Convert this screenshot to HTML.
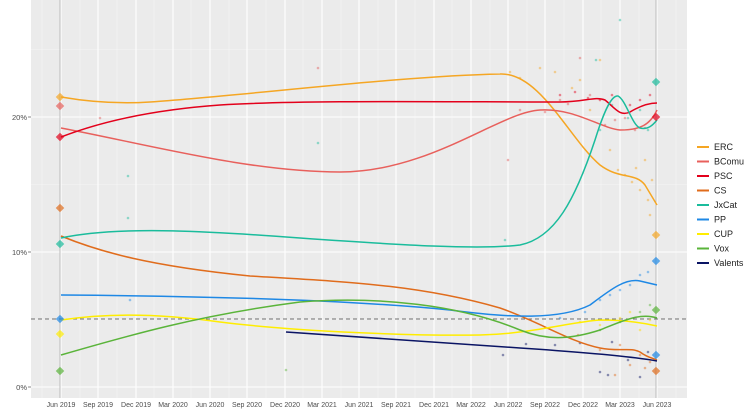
<!DOCTYPE html>
<html><head><meta charset="utf-8"><style>body{margin:0;background:#fff}svg{display:block;font-family:"Liberation Sans",sans-serif}</style></head><body>
<svg width="750" height="417" viewBox="0 0 750 417">
<rect x="31" y="0" width="656" height="398" fill="#ebebeb"/>
<g stroke="#f5f5f5" stroke-width="0.6">
<line x1="31" x2="687" y1="319.5" y2="319.5"/><line x1="31" x2="687" y1="184.5" y2="184.5"/><line x1="31" x2="687" y1="49.5" y2="49.5"/>
<line x1="42" x2="42" y1="0" y2="398"/><line x1="80" x2="80" y1="0" y2="398"/><line x1="117" x2="117" y1="0" y2="398"/><line x1="154" x2="154" y1="0" y2="398"/><line x1="191" x2="191" y1="0" y2="398"/><line x1="229" x2="229" y1="0" y2="398"/><line x1="266" x2="266" y1="0" y2="398"/><line x1="303" x2="303" y1="0" y2="398"/><line x1="341" x2="341" y1="0" y2="398"/><line x1="378" x2="378" y1="0" y2="398"/><line x1="415" x2="415" y1="0" y2="398"/><line x1="452" x2="452" y1="0" y2="398"/><line x1="490" x2="490" y1="0" y2="398"/><line x1="527" x2="527" y1="0" y2="398"/><line x1="564" x2="564" y1="0" y2="398"/><line x1="601" x2="601" y1="0" y2="398"/><line x1="639" x2="639" y1="0" y2="398"/><line x1="676" x2="676" y1="0" y2="398"/>
</g>
<g stroke="#fff" stroke-width="1.1">
<line x1="31" x2="687" y1="387" y2="387"/><line x1="31" x2="687" y1="252" y2="252"/><line x1="31" x2="687" y1="117" y2="117"/>
<line x1="61" x2="61" y1="0" y2="398"/><line x1="98" x2="98" y1="0" y2="398"/><line x1="136" x2="136" y1="0" y2="398"/><line x1="173" x2="173" y1="0" y2="398"/><line x1="210" x2="210" y1="0" y2="398"/><line x1="247" x2="247" y1="0" y2="398"/><line x1="285" x2="285" y1="0" y2="398"/><line x1="322" x2="322" y1="0" y2="398"/><line x1="359" x2="359" y1="0" y2="398"/><line x1="396" x2="396" y1="0" y2="398"/><line x1="434" x2="434" y1="0" y2="398"/><line x1="471" x2="471" y1="0" y2="398"/><line x1="508" x2="508" y1="0" y2="398"/><line x1="545" x2="545" y1="0" y2="398"/><line x1="583" x2="583" y1="0" y2="398"/><line x1="620" x2="620" y1="0" y2="398"/><line x1="657" x2="657" y1="0" y2="398"/>
</g>
<line x1="60" x2="60" y1="0" y2="398" stroke="#bbb" stroke-width="1"/>
<line x1="656" x2="656" y1="0" y2="398" stroke="#bbb" stroke-width="1"/>
<line x1="31" x2="687" y1="319" y2="319" stroke="#444" stroke-width="0.8" stroke-dasharray="4,3"/>
<g opacity="0.45">
<g fill="#f5a623"><circle cx="510" cy="72" r="1.3"/><circle cx="540" cy="68" r="1.3"/><circle cx="580" cy="80" r="1.3"/><circle cx="610" cy="150" r="1.3"/><circle cx="625" cy="175" r="1.3"/><circle cx="640" cy="190" r="1.3"/><circle cx="650" cy="215" r="1.3"/><circle cx="600" cy="60" r="1.3"/><circle cx="645" cy="160" r="1.3"/><circle cx="520" cy="78" r="1.3"/><circle cx="555" cy="72" r="1.3"/><circle cx="572" cy="88" r="1.3"/><circle cx="590" cy="110" r="1.3"/><circle cx="618" cy="170" r="1.3"/><circle cx="632" cy="182" r="1.3"/><circle cx="648" cy="200" r="1.3"/><circle cx="652" cy="180" r="1.3"/><circle cx="636" cy="168" r="1.3"/></g>
<g fill="#e05a5a"><circle cx="520" cy="110" r="1.3"/><circle cx="560" cy="100" r="1.3"/><circle cx="590" cy="95" r="1.3"/><circle cx="615" cy="120" r="1.3"/><circle cx="635" cy="130" r="1.3"/><circle cx="318" cy="68" r="1.3"/><circle cx="100" cy="118" r="1.3"/><circle cx="580" cy="58" r="1.3"/><circle cx="545" cy="112" r="1.3"/><circle cx="568" cy="104" r="1.3"/><circle cx="605" cy="125" r="1.3"/><circle cx="625" cy="118" r="1.3"/><circle cx="645" cy="128" r="1.3"/><circle cx="508" cy="160" r="1.3"/></g>
<g fill="#e3001b"><circle cx="560" cy="95" r="1.3"/><circle cx="600" cy="100" r="1.3"/><circle cx="630" cy="105" r="1.3"/><circle cx="650" cy="95" r="1.3"/><circle cx="575" cy="92" r="1.3"/><circle cx="612" cy="95" r="1.3"/><circle cx="640" cy="100" r="1.3"/><circle cx="588" cy="98" r="1.3"/></g>
<g fill="#1abc9c"><circle cx="128" cy="176" r="1.3"/><circle cx="128" cy="218" r="1.3"/><circle cx="620" cy="20" r="1.3"/><circle cx="600" cy="130" r="1.3"/><circle cx="640" cy="110" r="1.3"/><circle cx="318" cy="143" r="1.3"/><circle cx="505" cy="240" r="1.3"/><circle cx="612" cy="105" r="1.3"/><circle cx="628" cy="118" r="1.3"/><circle cx="648" cy="130" r="1.3"/><circle cx="596" cy="60" r="1.3"/></g>
<g fill="#1e88e5"><circle cx="600" cy="300" r="1.3"/><circle cx="620" cy="290" r="1.3"/><circle cx="640" cy="275" r="1.3"/><circle cx="560" cy="318" r="1.3"/><circle cx="130" cy="300" r="1.3"/><circle cx="610" cy="295" r="1.3"/><circle cx="630" cy="285" r="1.3"/><circle cx="648" cy="272" r="1.3"/><circle cx="585" cy="312" r="1.3"/></g>
<g fill="#e06c1c"><circle cx="600" cy="350" r="1.3"/><circle cx="630" cy="365" r="1.3"/><circle cx="645" cy="368" r="1.3"/><circle cx="615" cy="375" r="1.3"/><circle cx="578" cy="335" r="1.3"/><circle cx="620" cy="345" r="1.3"/><circle cx="640" cy="355" r="1.3"/><circle cx="650" cy="362" r="1.3"/></g>
<g fill="#ffd800"><circle cx="580" cy="322" r="1.3"/><circle cx="620" cy="318" r="1.3"/><circle cx="640" cy="330" r="1.3"/><circle cx="600" cy="325" r="1.3"/><circle cx="630" cy="312" r="1.3"/><circle cx="650" cy="320" r="1.3"/></g>
<g fill="#5ab43a"><circle cx="600" cy="330" r="1.3"/><circle cx="640" cy="312" r="1.3"/><circle cx="286" cy="370" r="1.3"/><circle cx="620" cy="322" r="1.3"/><circle cx="650" cy="305" r="1.3"/></g>
<g fill="#0a1464"><circle cx="503" cy="355" r="1.3"/><circle cx="526" cy="344" r="1.3"/><circle cx="600" cy="372" r="1.3"/><circle cx="608" cy="375" r="1.3"/><circle cx="640" cy="377" r="1.3"/><circle cx="612" cy="342" r="1.3"/><circle cx="555" cy="345" r="1.3"/><circle cx="580" cy="343" r="1.3"/><circle cx="628" cy="360" r="1.3"/><circle cx="648" cy="352" r="1.3"/></g>
</g>
<g fill="none" stroke-width="1.5">
<path stroke="#f5a623" d="M61,97 C90,102 120,104 150,102 C250,95 400,76 500,74 C540,72 570,140 600,165 C620,180 635,172 645,185 L657,205"/>
<path stroke="#e8605c" d="M61,128 C150,145 250,172 340,172 C430,172 500,112 540,110 C575,108 600,128 620,130 C640,130 650,125 657,110"/>
<path stroke="#e3001b" d="M61,137 C100,122 150,110 220,105 C300,100 450,102 560,102 C585,102 595,96 605,100 C615,108 620,117 630,112 C640,106 648,103 657,103"/>
<path stroke="#e06c1c" d="M61,236 C100,252 150,266 250,276 C350,282 420,285 500,308 C540,322 570,342 600,348 C620,352 630,347 640,352 C648,358 653,358 657,360"/>
<path stroke="#1abc9c" d="M61,238 C120,225 220,232 300,238 C400,245 480,250 520,245 C555,238 575,200 595,140 C605,108 612,95 618,96 C626,100 632,125 640,128 C648,130 653,125 657,120"/>
<path stroke="#1e88e5" d="M61,295 C200,296 350,300 450,310 C510,318 560,320 590,305 C610,290 625,278 640,281 L657,285"/>
<path stroke="#ffed00" d="M61,320 C100,314 150,312 220,322 C300,332 420,336 480,335 C530,334 570,322 600,320 C620,320 640,322 657,326"/>
<path stroke="#5ab43a" d="M61,355 C130,335 200,315 300,302 C380,296 460,305 520,330 C550,342 575,338 600,330 C620,322 640,312 657,318"/>
<path stroke="#0a1464" d="M286,332 C380,338 460,344 520,348 C580,352 630,356 657,361"/>
</g>
<g opacity="0.7">
<rect x="57" y="94" width="6" height="6" fill="#f5a623" transform="rotate(45 60 97)"/>
<rect x="57" y="103" width="6" height="6" fill="#e8605c" transform="rotate(45 60 106)"/>
<rect x="57" y="134" width="6" height="6" fill="#e3001b" transform="rotate(45 60 137)"/>
<rect x="57" y="205" width="6" height="6" fill="#e06c1c" transform="rotate(45 60 208)"/>
<rect x="57" y="241" width="6" height="6" fill="#1abc9c" transform="rotate(45 60 244)"/>
<rect x="57" y="316" width="6" height="6" fill="#1e88e5" transform="rotate(45 60 319)"/>
<rect x="57" y="331" width="6" height="6" fill="#ffed00" transform="rotate(45 60 334)"/>
<rect x="57" y="368" width="6" height="6" fill="#5ab43a" transform="rotate(45 60 371)"/>
<rect x="653" y="79" width="6" height="6" fill="#1abc9c" transform="rotate(45 656 82)"/>
<rect x="653" y="114" width="6" height="6" fill="#e3001b" transform="rotate(45 656 117)"/>
<rect x="653" y="232" width="6" height="6" fill="#f5a623" transform="rotate(45 656 235)"/>
<rect x="653" y="258" width="6" height="6" fill="#1e88e5" transform="rotate(45 656 261)"/>
<rect x="653" y="307" width="6" height="6" fill="#5ab43a" transform="rotate(45 656 310)"/>
<rect x="653" y="352" width="6" height="6" fill="#1e88e5" transform="rotate(45 656 355)"/>
<rect x="653" y="368" width="6" height="6" fill="#e06c1c" transform="rotate(45 656 371)"/>
</g>
<g font-size="7.5" fill="#4d4d4d" text-anchor="end">
<text x="27" y="390">0%</text><text x="27" y="255">10%</text><text x="27" y="120">20%</text>
</g>
<g stroke="#333" stroke-width="0.6"><line x1="28" x2="31" y1="387" y2="387"/><line x1="28" x2="31" y1="252" y2="252"/><line x1="28" x2="31" y1="117" y2="117"/></g>
<g font-size="7" fill="#4d4d4d" text-anchor="middle">
<text x="61" y="407">Jun 2019</text><text x="98" y="407">Sep 2019</text><text x="136" y="407">Dec 2019</text><text x="173" y="407">Mar 2020</text><text x="210" y="407">Jun 2020</text><text x="247" y="407">Sep 2020</text><text x="285" y="407">Dec 2020</text><text x="322" y="407">Mar 2021</text><text x="359" y="407">Jun 2021</text><text x="396" y="407">Sep 2021</text><text x="434" y="407">Dec 2021</text><text x="471" y="407">Mar 2022</text><text x="508" y="407">Jun 2022</text><text x="545" y="407">Sep 2022</text><text x="583" y="407">Dec 2022</text><text x="620" y="407">Mar 2023</text><text x="657" y="407">Jun 2023</text>
</g>
<g font-size="9" fill="#222">
<line x1="697" x2="709" y1="147" y2="147" stroke="#f5a623" stroke-width="2"/><text x="714" y="150">ERC</text>
<line x1="697" x2="709" y1="161.5" y2="161.5" stroke="#e8605c" stroke-width="2"/><text x="714" y="164.5">BComu</text>
<line x1="697" x2="709" y1="176" y2="176" stroke="#e3001b" stroke-width="2"/><text x="714" y="179">PSC</text>
<line x1="697" x2="709" y1="190.5" y2="190.5" stroke="#e06c1c" stroke-width="2"/><text x="714" y="193.5">CS</text>
<line x1="697" x2="709" y1="205" y2="205" stroke="#1abc9c" stroke-width="2"/><text x="714" y="208">JxCat</text>
<line x1="697" x2="709" y1="219.5" y2="219.5" stroke="#1e88e5" stroke-width="2"/><text x="714" y="222.5">PP</text>
<line x1="697" x2="709" y1="234" y2="234" stroke="#ffed00" stroke-width="2"/><text x="714" y="237">CUP</text>
<line x1="697" x2="709" y1="248.5" y2="248.5" stroke="#5ab43a" stroke-width="2"/><text x="714" y="251.5">Vox</text>
<line x1="697" x2="709" y1="263" y2="263" stroke="#0a1464" stroke-width="2"/><text x="714" y="266">Valents</text>
</g>
</svg>
</body></html>
